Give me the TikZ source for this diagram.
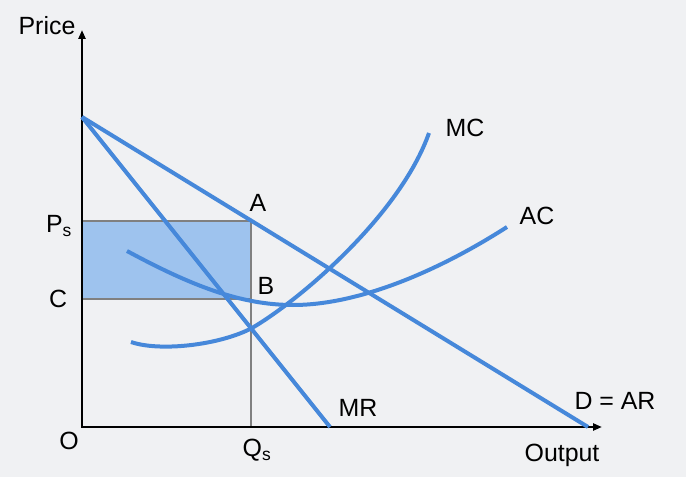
\documentclass[tikz,border=0pt]{standalone}
\usepackage{fontspec}
\setmainfont{Liberation Sans}
\usetikzlibrary{arrows.meta}
\definecolor{bgGrey}{RGB}{240,241,243}
\definecolor{curveBlue}{RGB}{70,136,218}
\definecolor{boxBlue}{RGB}{158,195,238}

\begin{document}
\begin{tikzpicture}[x=1bp,y=-1bp,
  curve/.style={curveBlue,line width=4bp},
  axis/.style={black,line width=2.5bp,{Triangle[length=9bp,width=7bp]}-{Triangle[length=9bp,width=7bp]}},
  guide/.style={gray,line width=1.3bp},
  lbl/.style={font=\fontsize{25}{30}\selectfont,inner sep=0pt}]
  \fill[bgGrey] (0,0) rectangle (686,477);
  \useasboundingbox (0,0) rectangle (686,477);
  % axes and key points
  \coordinate (O) at (82,427);
  \coordinate (ytop) at (82,30);
  \coordinate (xend) at (602,427);
  \coordinate (top) at (82,117);
  \coordinate (dend) at (588,427);
  \coordinate (mrend) at (330,427);
  \coordinate (A) at (251,221);
  \coordinate (B) at (251,299);
  \coordinate (Ps) at (82,221);
  \coordinate (C) at (82,299);
  \coordinate (Qs) at (251,427);
  % profit box
  \fill[boxBlue] (Ps) rectangle (B);
  \draw[guide] (Ps) -- (A) -- (Qs);
  \draw[guide] (C) -- (B);
  \draw[axis] (ytop) -- (O) -- (xend);
  % revenue and cost curves
  \draw[curve] (top) -- (dend);
  \draw[curve] (top) -- (mrend);
  \draw[curve] (131,342) .. controls (160,352) and (220,345) .. (252,328)
    .. controls (300,300) and (400,215) .. (429,133);
  \draw[curve] (127,251) .. controls (190,285) and (240,305) .. (293,305)
    .. controls (360,305) and (440,270) .. (507,227);
  % labels
  \node[lbl] (priceLbl) at (47,26) {Price};
  \node[lbl] (outLbl) at (562,455) {Output};
  \node[lbl] (oLbl) at (69,441) {O};
  \node[lbl] (psLbl) at (59,226) {P\textsubscript{s}};
  \node[lbl] (cLbl) at (58,299) {C};
  \node[lbl] (qsLbl) at (257,450) {Q\textsubscript{s}};
  \node[lbl] (aLbl) at (258,203) {A};
  \node[lbl] (bLbl) at (266,286) {B};
  \node[lbl] (mcLbl) at (465,128) {MC};
  \node[lbl] (acLbl) at (537,216) {AC};
  \node[lbl] (mrLbl) at (358,408) {MR};
  \node[lbl] (dLbl) at (615,401) {D = AR};
\end{tikzpicture}
\end{document}
